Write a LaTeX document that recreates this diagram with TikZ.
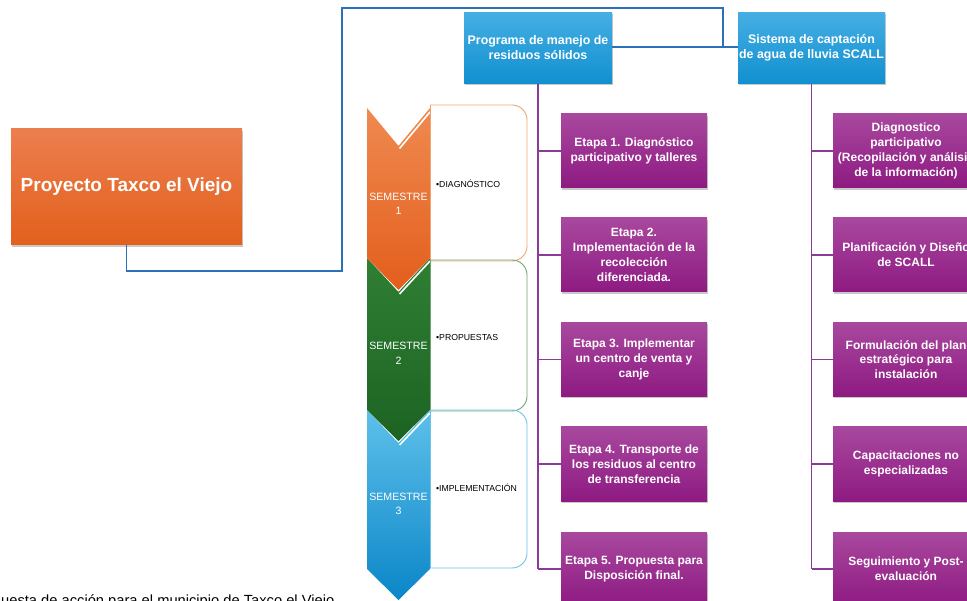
\documentclass[tikz,border=0pt]{standalone}
\usepackage{fontspec}
\setmainfont{Liberation Sans}
\newfontfamily\capfont{Liberation Sans}
\usetikzlibrary{shadows}
\definecolor{orT}{HTML}{EC7E4E}
\definecolor{orB}{HTML}{E2601C}
\definecolor{blT}{HTML}{45AEE3}
\definecolor{blB}{HTML}{1190D0}
\definecolor{puT}{HTML}{A8489E}
\definecolor{puB}{HTML}{8E1A82}
\definecolor{puLine}{HTML}{8A3B98}
\definecolor{blLine}{HTML}{2B70B8}
\definecolor{chOrT}{HTML}{EF8A50}
\definecolor{chOrB}{HTML}{E35E1C}
\definecolor{chGrT}{HTML}{2F7F34}
\definecolor{chGrB}{HTML}{1D6322}
\definecolor{chBlT}{HTML}{5EC0EA}
\definecolor{chBlB}{HTML}{0B86C8}
\definecolor{bdOr}{HTML}{F0A470}
\definecolor{bdGr}{HTML}{6EA46F}
\definecolor{bdBl}{HTML}{6CC3E8}
\begin{document}
\begin{tikzpicture}[x=1pt,y=-1pt,
  shadowed/.style={drop shadow={opacity=0.3, shadow xshift=1.2pt, shadow yshift=-1.6pt, fill=black!70}},
  bluebox/.style={shadowed, top color=blT, bottom color=blB, text=white, inner sep=0pt,
     minimum width=148pt, minimum height=71pt, align=center,
     font=\bfseries\fontsize{12.4}{15}\selectfont},
  purplebox/.style={shadowed, top color=puT, bottom color=puB, text=white, inner sep=0pt,
     minimum width=146pt, minimum height=74pt, align=center,
     font=\bfseries\fontsize{12}{14.8}\selectfont},
  orangebox/.style={shadowed, top color=orT, bottom color=orB, text=white, inner sep=0pt,
     minimum width=231pt, minimum height=116pt, align=center,
     font=\bfseries\fontsize{19}{22}\selectfont},
  semlabel/.style={text=white, align=center, inner sep=0pt, font=\capfont\fontsize{10.6}{14.5}\selectfont},
  bullettext/.style={anchor=west, inner sep=0pt, font=\capfont\fontsize{8.7}{10}\selectfont, text=black},
  blueconn/.style={draw=blLine, line width=1.5pt},
  purpconn/.style={draw=puLine, line width=1.4pt},
  highlight/.style={draw=white, line width=1.6pt},
  infobox/.style={line width=0.9pt, rounded corners=15pt}
]
\useasboundingbox (0,0) rectangle (967,601);
\clip (0,0) rectangle (967,601);

% chevrons (lower first)
\shade[top color=chBlT, bottom color=chBlB]
  (367,410) -- (398.5,443) -- (430,410) -- (430,569) -- (398.5,600) -- (367,569) -- cycle;
\shade[top color=chGrT, bottom color=chGrB]
  (367,258) -- (398.5,292) -- (430,258) -- (430,410) -- (398.5,441) -- (367,410) -- cycle;
\shade[top color=chOrT, bottom color=chOrB]
  (367,108) -- (398.5,146) -- (430,108) -- (430,258) -- (398.5,290) -- (367,258) -- cycle;
\draw[highlight] (399.5,148.5) -- (430,112);
\draw[highlight] (399.5,294) -- (430,261);
\draw[highlight] (399.5,445) -- (430,413);

\node[semlabel] (s1) at (398.5,204) {SEMESTRE\\1};
\node[semlabel] (s2) at (398.5,353.5) {SEMESTRE\\2};
\node[semlabel] (s3) at (398.5,504) {SEMESTRE\\3};

% info boxes
\draw[infobox, draw=bdOr] (430,105) -- (527,105) -- (527,261) -- (430,261);
\draw[line width=0.9pt, draw=bdOr] (430,105) -- (430,261);
\draw[infobox, draw=bdGr] (430,260) -- (527,260) -- (527,411) -- (430,411);
\draw[line width=0.9pt, draw=bdGr] (430,260) -- (430,411);
\draw[infobox, draw=bdBl] (430,410) -- (527,410) -- (527,568) -- (430,568);
\draw[line width=0.9pt, draw=bdBl] (430,410) -- (430,568);

\node[bullettext] (b1) at (436,184) {•DIAGNÓSTICO};
\node[bullettext] (b2) at (436,338) {•PROPUESTAS};
\node[bullettext] (b3) at (436,488) {•IMPLEMENTACIÓN};

% main boxes
\node[orangebox] (taxco) at (126.5,187) {Proyecto Taxco el Viejo};
\node[bluebox] (prog) at (538,48) {Programa de manejo de\\residuos sólidos};
\node[bluebox, minimum width=147pt] (sist) at (811.5,48) {Sistema de captación\\de agua de lluvia SCALL};

% purple boxes left
\node[purplebox] (e1) at (634,151) {Etapa 1. Diagnóstico\\participativo y talleres};
\node[purplebox] (e2) at (634,255) {Etapa 2.\\Implementación de la\\recolección\\diferenciada.};
\node[purplebox] (e3) at (634,359.5) {Etapa 3. Implementar\\un centro de venta y\\canje};
\node[purplebox] (e4) at (634,464) {Etapa 4. Transporte de\\los residuos al centro\\de transferencia};
\node[purplebox] (e5) at (634,569) {Etapa 5. Propuesta para\\Disposición final.};

% purple boxes right
\node[purplebox] (r1) at (906,151) {Diagnostico\\participativo\\(Recopilación y análisis\\de la información)};
\node[purplebox] (r2) at (906,255) {Planificación y Diseño\\de SCALL};
\node[purplebox] (r3) at (906,359.5) {Formulación del plan\\estratégico para\\instalación};
\node[purplebox] (r4) at (906,464) {Capacitaciones no\\especializadas};
\node[purplebox] (r5) at (906,569) {Seguimiento y Post-\\evaluación};

% connectors
\coordinate (c1) at (342,271);
\coordinate (c2) at (723,8);
\coordinate (c3) at (723,47);
\draw[blueconn] (taxco.south) |- (c1) |- (c2) -- (c3);
\draw[blueconn] (prog.east |- c3) -- (sist.west |- c3);

\draw[purpconn] (prog.south) -- (prog.south |- e5.west);
\foreach \n in {e1,e2,e3,e4,e5} \draw[purpconn] (prog.south |- \n.west) -- (\n.west);
\draw[purpconn] (sist.south) -- (sist.south |- r5.west);
\foreach \n in {r1,r2,r3,r4,r5} \draw[purpconn] (sist.south |- \n.west) -- (\n.west);

% caption
\node[anchor=base west, inner sep=0pt, font=\capfont\fontsize{14.7}{16}\selectfont] (cap) at (1,605) {uesta de acción para el municipio de Taxco el Viejo};
\end{tikzpicture}
\end{document}
